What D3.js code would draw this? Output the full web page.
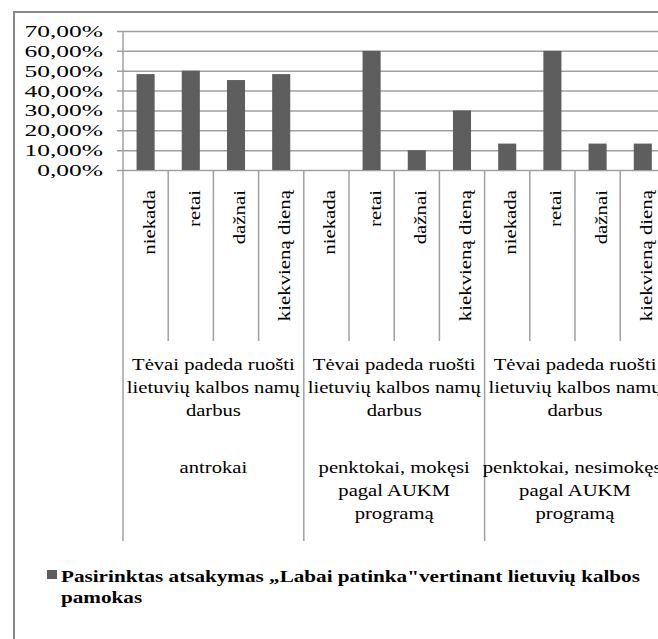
<!DOCTYPE html>
<html>
<head>
<meta charset="utf-8">
<script src="https://cdn.jsdelivr.net/npm/d3@7/dist/d3.min.js"></script>
<style>body{margin:0}</style>
</head>
<body>
<svg id="chart" width="658" height="639"></svg>
<script>
// Frequency answers within each pupil group
const answers = ["niekada", "retai", "dažnai", "kiekvieną dieną"];

// Pupil groups: each label split into its two stacked blocks of lines
const groupTopLines = [
  ["Tėvai padeda ruošti", "lietuvių kalbos namų", "darbus"],
  ["Tėvai padeda ruošti", "lietuvių kalbos namų", "darbus"],
  ["Tėvai padeda ruošti", "lietuvių kalbos namų", "darbus"]
];
const groupBottomLines = [
  ["antrokai"],
  ["penktokai, mokęsi", "pagal AUKM", "programą"],
  ["penktokai, nesimokęsi", "pagal AUKM", "programą"]
];

// Share choosing „Labai patinka", per group, in answer order (%)
const valuesAntrokai = [48.3, 50.0, 45.3, 48.3];
const valuesMokesi = [0, 60.0, 10.0, 30.0];
const valuesNesimokesi = [13.3, 60.0, 13.3, 13.3];

const yTicks = [0, 10, 20, 30, 40, 50, 60, 70];
const legendLines = [
  "Pasirinktas atsakymas „Labai patinka\"vertinant lietuvių kalbos",
  "pamokas"
];

const groupValues = [valuesAntrokai, valuesMokesi, valuesNesimokesi];
const rows = [];
groupValues.forEach((vals, g) => {
  vals.forEach((v, i) => rows.push({ id: g + "-" + i, group: g, answer: answers[i], value: v }));
});

const svg = d3.select("#chart");
const plot = { left: 123, top: 31, bottom: 170, right: 665.4 };
const gridColor = "#a0a0a0";

// Wide serif text: set at a 22px base size, then scaled to the wanted size
// and widened horizontally
const BASE = 22;
function wideText(parent, str, px, py, opts) {
  const o = Object.assign({ size: 17.5, sx: 1.18, rotate: 0, anchor: "start", weight: null }, opts);
  const k = o.size / BASE;
  return parent.append("text")
    .attr("transform", `translate(${px},${py})` + (o.rotate ? ` rotate(${o.rotate})` : "") + ` scale(${o.sx * k},${k})`)
    .attr("text-anchor", o.anchor)
    .attr("style", `font-family: "Liberation Serif"; font-size: ${BASE}px` + (o.weight ? `; font-weight: ${o.weight}` : ""))
    .text(str);
}

// Outer frame (chart area extends past the right/bottom edges)
svg.append("path")
  .attr("d", "M14,700 L14,12 L700,12")
  .attr("fill", "none")
  .attr("stroke", "#888")
  .attr("stroke-width", 2);

const x = d3.scaleBand()
  .domain(rows.map(d => d.id))
  .range([plot.left, plot.right])
  .paddingInner(0.6)
  .paddingOuter(0.3);
const step = x.step();
const slotLeft = id => x(id) - x.paddingOuter() * step;

const y = d3.scaleLinear().domain([0, 70]).range([plot.bottom, plot.top]);

// Gridlines with outside tick marks; labels drawn separately below
const yAxis = d3.axisLeft(y)
  .tickValues(yTicks)
  .tickSize(plot.right - plot.left + 6)
  .tickFormat("");

const yg = svg.append("g")
  .attr("transform", `translate(${plot.right},0)`)
  .call(yAxis);
yg.select(".domain").remove();
yg.selectAll(".tick line").attr("stroke", gridColor).attr("stroke-width", 1.5);

const tickLabel = d => d3.format(".2f")(d).replace(".", ",") + "%";
const ylab = svg.append("g");
yTicks.forEach(t => wideText(ylab, tickLabel(t), 103, y(t) + 6, { size: 17, sx: 1.5, anchor: "end" }));

// Vertical value axis line, continued down through the label area
svg.append("line")
  .attr("x1", plot.left).attr("x2", plot.left)
  .attr("y1", plot.top).attr("y2", 541)
  .attr("stroke", gridColor).attr("stroke-width", 1.5);

// Category separators
rows.forEach((d, i) => {
  if (i === 0) return;
  const xs = slotLeft(d.id);
  const isGroupEdge = d.answer === answers[0];
  svg.append("line")
    .attr("x1", xs).attr("x2", xs)
    .attr("y1", plot.bottom).attr("y2", isGroupEdge ? 541 : 341)
    .attr("stroke", gridColor).attr("stroke-width", 1.5);
});
// separator closing the last slot
const lastEdge = slotLeft(rows[rows.length - 1].id) + step;
svg.append("line")
  .attr("x1", lastEdge).attr("x2", lastEdge)
  .attr("y1", plot.bottom).attr("y2", 541)
  .attr("stroke", gridColor).attr("stroke-width", 1.5);

// Bars
svg.append("g").selectAll("rect")
  .data(rows)
  .join("rect")
  .attr("x", d => x(d.id))
  .attr("width", x.bandwidth())
  .attr("y", d => y(d.value))
  .attr("height", d => y(0) - y(d.value))
  .attr("fill", "#5e5e5e");

// Rotated answer labels
const alab = svg.append("g");
rows.forEach(d => wideText(alab, d.answer, x(d.id) + x.bandwidth() / 2 + 9, 190,
  { rotate: -90, anchor: "end", sx: 1.19 }));

// Group labels
const groupCenter = g => slotLeft(rows[g * 4].id) + step * 2;
const glab = svg.append("g");
groupTopLines.forEach((lines, g) =>
  lines.forEach((t, k) => wideText(glab, t, groupCenter(g), 370 + k * 23, { anchor: "middle" })));
groupBottomLines.forEach((lines, g) =>
  lines.forEach((t, k) => wideText(glab, t, groupCenter(g), 473 + k * 23, { anchor: "middle" })));

// Legend
svg.append("rect")
  .attr("x", 47).attr("y", 570)
  .attr("width", 10).attr("height", 9)
  .attr("fill", "#5e5e5e");
const leg = svg.append("g");
legendLines.forEach((t, k) => wideText(leg, t, 61, 582 + k * 21, { weight: "bold", sx: 1.21 }));
</script>
</body>
</html>
